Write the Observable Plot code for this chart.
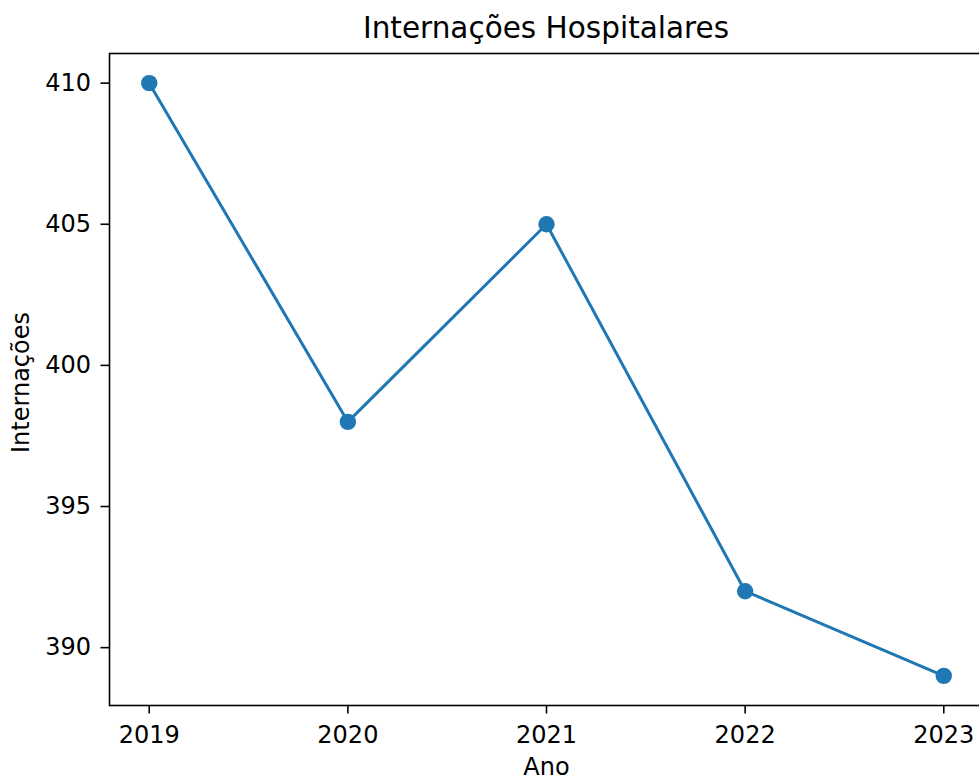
<!DOCTYPE html>
<html>
<head>
<meta charset="utf-8">
<script src="https://cdn.jsdelivr.net/npm/d3@7"></script>
<script src="https://cdn.jsdelivr.net/npm/@observablehq/plot@0.6"></script>
<style>
  html, body { margin: 0; padding: 0; background: white; overflow: hidden; }
  #title { height: 45px; width: 979px; position: relative; font-family: "DejaVu Sans", sans-serif; }
  #title span { position: absolute; left: 546px; transform: translateX(-50%); top: 11px; font-size: 29.5px; line-height: normal; color: #000; white-space: nowrap; }
  #chart svg { max-width: none !important; }
</style>
</head>
<body>
<div id="title"><span id="titleText"></span></div>
<div id="chart"></div>
<script>
const years = [2019, 2020, 2021, 2022, 2023];
const admissions = [410, 398, 405, 392, 389];
const yTicks = [390, 395, 400, 405, 410];
const xTicks = [2019, 2020, 2021, 2022, 2023];
const titleText = "Internações Hospitalares";
const xLabel = "Ano";
const yLabel = "Internações";

document.getElementById("titleText").textContent = titleText;

const data = years.map((y, i) => ({year: y, value: admissions[i]}));
const color = "#1f77b4";
const font = "DejaVu Sans, sans-serif";

const chart = Plot.plot({
  width: 983,
  height: 735,
  marginLeft: 109,
  marginRight: 0,
  marginTop: 8,
  marginBottom: 75,
  style: {fontFamily: font, background: "white", color: "black", maxWidth: "none"},
  x: {domain: [2018.8, 2023.2]},
  y: {domain: [387.95, 411.05]},
  marks: [
    Plot.line(data, {x: "year", y: "value", stroke: color, strokeWidth: 3}),
    Plot.dot(data, {x: "year", y: "value", fill: color, r: 8.2, stroke: "none"}),
    Plot.frame({stroke: "black", strokeWidth: 1.6}),
    Plot.axisX({ticks: xTicks, tickFormat: d => String(d), tickSize: 8.5, tickPadding: 11.5, fontSize: 24, label: null, stroke: "black", strokeWidth: 1.6}),
    Plot.axisY({ticks: yTicks, tickFormat: d => String(d), tickSize: 8.5, tickPadding: 10, fontSize: 24, label: null, stroke: "black", strokeWidth: 1.6}),
    Plot.text([xLabel], {frameAnchor: "bottom", text: d => d, dy: 69, fontSize: 24, fill: "black"}),
    Plot.text([yLabel], {frameAnchor: "left", textAnchor: "middle", text: d => d, dx: -88, dy: 3, rotate: -90, fontSize: 24, fill: "black"})
  ]
});
document.getElementById("chart").appendChild(chart);
</script>
</body>
</html>
